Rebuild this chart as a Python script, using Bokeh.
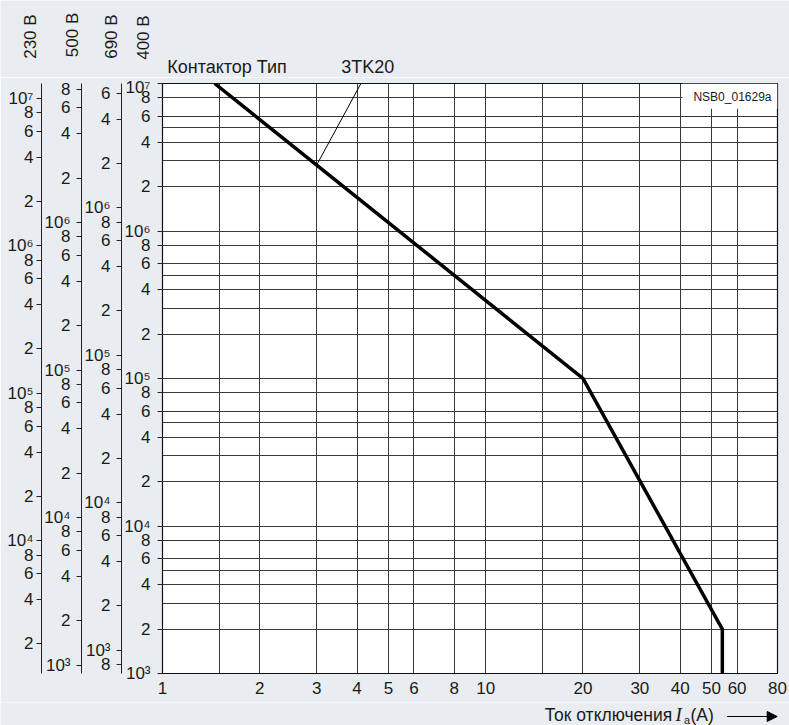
import math
from bokeh.plotting import figure
from bokeh.layouts import column
from bokeh.models import (LogAxis, Range1d, FixedTicker, Label, Arrow, NormalHead,
                          LogScale)
from bokeh.embed import file_html
from bokeh.resources import INLINE

# ---------------- data ----------------
curve_current = [1.45, 3, 20, 54, 54]          # A
curve_cycles = [1e7, 2.8e6, 1e5, 2e3, 1e3]     # switching cycles (400 V)
x_ticks = [1, 2, 3, 4, 5, 6, 8, 10, 20, 30, 40, 50, 60, 80]
x_grid = [1.5, 2, 3, 4, 5, 6, 8, 10, 15, 20, 30, 40, 50, 60]
y_grid_mult = [1, 2, 3, 4, 5, 6, 8]
y_label_mult = [1, 2, 4, 6, 8]
decades = [2, 3, 4, 5, 6, 7]
# factor: value on the voltage axis = factor * value on the 400 V axis
voltage_axes = ["690 В", "500 В", "230 В"]
voltage_factor = [1 / 1.435, 1 / 1.14, 1.26]
voltage_standoff = [6, 6, 3]
axis_titles = ["230 В", "500 В", "690 В", "400 В"]
leader_x = [3, 4.2]
leader_y = [2.8e6, 1.09e7]
box_x = [40.6, 80]
box_y = [6.75e6, 1e7]
contactor_label = "Контактор Тип"
contactor_type = "3TK20"
code_label = "NSB0_01629a"
x_title = "Ток отключения"

SUP = {2: "²", 3: "³", 4: "⁴", 5: "⁵", 6: "⁶", 7: "⁷"}
FONT = "Liberation Sans"
BG = "#e9edf1"
TXT = "#1a1a1a"
BASE_EM = 0.33   # rendered alphabetic baseline sits this many em lower than asked

# ---------------- page geometry ----------------
W = 789
TOP_H, MAIN_H, BOT_H = 77, 625, 23
FL, FR, FT, FB = 162, 777, 83.0, 673.0
XMIN, XMAX, YMIN, YMAX = 1, 80, 1e3, 1e7


def X(px):
    return 10 ** (math.log10(XMIN) + (px - FL) / (FR - FL) * math.log10(XMAX / XMIN))


def Y(py):
    return 10 ** (math.log10(YMIN) + (FB - py) / (FB - FT) * math.log10(YMAX / YMIN))


def strip(height, y_top):
    f = figure(width=W, height=height, x_range=Range1d(0, W),
               y_range=Range1d(y_top + height, y_top), output_backend="svg",
               toolbar_location=None, x_axis_location=None, y_axis_location=None,
               min_border_left=0, min_border_right=0, min_border_top=0,
               min_border_bottom=0, frame_align=False)
    f.grid.visible = False
    f.outline_line_color = None
    f.background_fill_color = BG
    f.border_fill_color = BG
    return f


def lab(fig, text, x, y, size=17.0, align="left", rotated=False, font=FONT,
        style="normal", to_data=None):
    """x, y: page pixel position of the text start on its baseline."""
    off = BASE_EM * size
    if rotated:
        x -= off
    else:
        y -= off
    if to_data is not None:
        x, y = to_data(x, y)
    fig.add_layout(Label(x=x, y=y, text=text, text_font=font,
                         text_font_size=f"{size}px", text_align=align,
                         text_baseline="alphabetic",
                         angle=math.pi / 2 if rotated else 0,
                         text_color=TXT, text_font_style=style))


# ---------------- top strip: axis titles and type label ----------------
top = strip(TOP_H, 0)
for name, bx, by in zip(axis_titles, [35.3, 77.3, 116.7, 148.3],
                        [58.3, 56.7, 58.3, 59.3]):
    lab(top, name, bx, by, size=17.0, rotated=True)
lab(top, contactor_label, 166.7, 72.6, size=18.0)
lab(top, contactor_type, 340.7, 72.6, size=18.0)

# ---------------- main chart ----------------
p = figure(width=W, height=MAIN_H, x_axis_type="log", y_axis_type="log",
           x_range=Range1d(XMIN, XMAX), y_range=Range1d(YMIN, YMAX),
           output_backend="svg", toolbar_location=None, title=None,
           min_border_left=FL, min_border_right=W - FR,
           min_border_top=round(FT - TOP_H),
           min_border_bottom=round(TOP_H + MAIN_H - FB), frame_align=False)
p.background_fill_color = "white"
p.border_fill_color = BG
p.outline_line_color = "#111111"
p.outline_line_width = 1.2

p.xgrid.ticker = FixedTicker(ticks=x_grid)
p.ygrid.ticker = FixedTicker(ticks=[m * 10 ** d for d in decades for m in y_grid_mult
                                    if YMIN < m * 10 ** d < YMAX])
for g in (p.xgrid, p.ygrid):
    g.grid_line_color = "#3a3a3a"
    g.grid_line_width = 1
    g.grid_line_alpha = 1

xa = p.xaxis[0]
xa.ticker = FixedTicker(ticks=x_ticks)
xa.major_label_overrides = {t: str(t) for t in x_ticks}
xa.major_tick_out = 0
xa.major_tick_in = 0
xa.minor_tick_line_color = None
xa.axis_line_color = None
xa.major_label_standoff = 8
xa.major_label_text_font = FONT
xa.major_label_text_font_size = "17px"
xa.major_label_text_color = TXT


def style_y_axis(ax, lo, hi, standoff):
    ticks = [m * 10 ** d for d in decades for m in y_label_mult if lo <= m * 10 ** d <= hi]
    ax.ticker = FixedTicker(ticks=ticks)
    ax.major_label_overrides = {m * 10 ** d: ("10" + SUP[d] if m == 1 else str(m))
                                for d in decades for m in y_label_mult
                                if m * 10 ** d in ticks}
    ax.major_tick_out = 5
    ax.major_tick_in = 0
    ax.minor_tick_line_color = None
    ax.axis_line_color = "#222222"
    ax.major_tick_line_color = "#222222"
    ax.major_label_standoff = standoff
    ax.major_label_text_font = FONT
    ax.major_label_text_font_size = "17px"
    ax.major_label_text_color = TXT


main_y = p.yaxis[0]
style_y_axis(main_y, YMIN, YMAX, 7)
main_y.axis_line_color = None

for name, f, so in zip(voltage_axes, voltage_factor, voltage_standoff):
    key = name.split()[0]
    p.extra_y_ranges[key] = Range1d(YMIN * f, YMAX * f)
    p.extra_y_scales[key] = LogScale()
    ax = LogAxis(y_range_name=key)
    style_y_axis(ax, YMIN * f, YMAX * f, so)
    p.add_layout(ax, "left")

p.quad(left=[box_x[0]], right=[box_x[1]], bottom=[box_y[0]], top=[box_y[1]],
       fill_color="white", line_color=None)
p.line(curve_current, curve_cycles, line_color="black", line_width=3.5,
       line_join="miter")
p.line(leader_x, leader_y, line_color="black", line_width=1)
lab(p, code_label, 771, 100.7, size=12.0, align="right",
    to_data=lambda a, b: (X(a), Y(b)))

# ---------------- bottom strip: x-axis title ----------------
bot = strip(BOT_H, TOP_H + MAIN_H)
TB = 720.6
lab(bot, x_title, 671.7, TB, size=17.5, align="right")
lab(bot, "I", 675, TB, size=19.0, font="Liberation Serif", style="italic")
lab(bot, "a", 683.5, TB + 2.3, size=11.0)
lab(bot, "(A)", 690, TB, size=17.5)
bot.add_layout(Arrow(end=NormalHead(size=10, fill_color="black", line_color="black"),
                     x_start=726.7, y_start=TB - 4.6, x_end=776.7, y_end=TB - 4.6,
                     line_color="black", line_width=1.2))

layout = column(top, p, bot, spacing=0)
open("out.html", "w").write(file_html(layout, INLINE))
